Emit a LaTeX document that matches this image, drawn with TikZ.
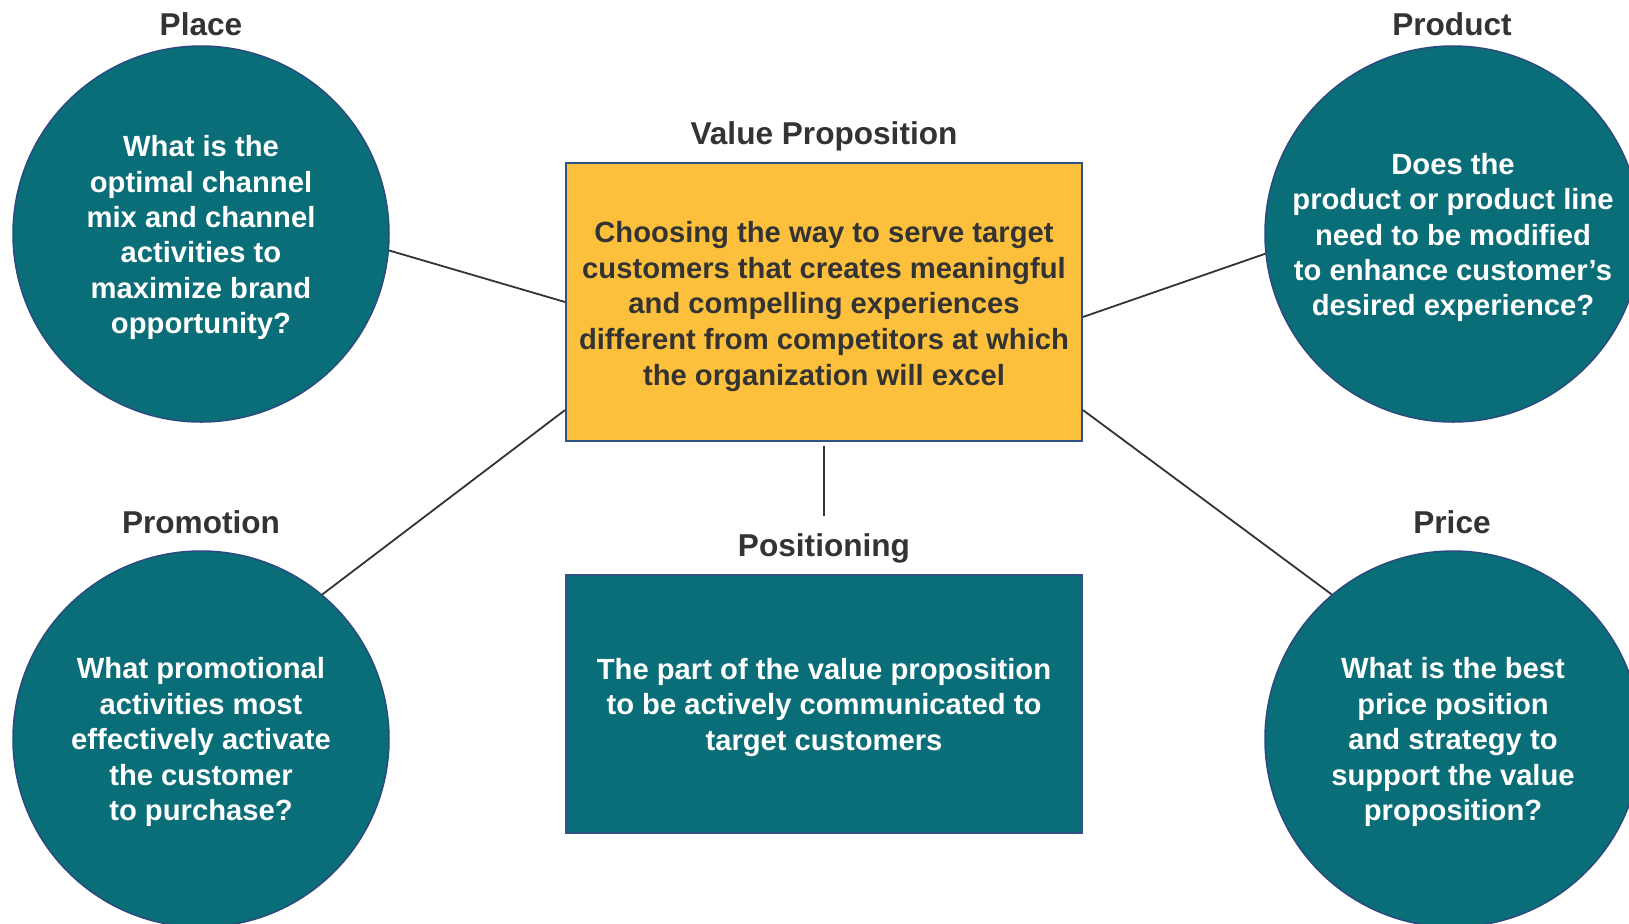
\documentclass[tikz,border=0pt]{standalone}
\usepackage{fontspec}
\setmainfont{Liberation Sans}
\definecolor{teal}{HTML}{0A6E78}
\definecolor{circborder}{HTML}{2A4A7F}
\definecolor{vpyellow}{HTML}{FDC03D}
\definecolor{boxborder}{HTML}{2E5284}
\definecolor{darktext}{HTML}{333333}
\begin{document}
\begin{tikzpicture}[x=0.5pt,y=-0.5pt,
  circ/.style={circle,draw=circborder,line width=0.75pt,fill=teal,minimum size=188pt,inner sep=0pt},
  vpbox/.style={rectangle,draw=boxborder,line width=0.9pt,fill=vpyellow,minimum width=258pt,minimum height=139pt,inner sep=0pt},
  posbox/.style={rectangle,draw=boxborder,line width=0.9pt,fill=teal,minimum width=258pt,minimum height=129pt,inner sep=0pt},
  wtext/.style={inner sep=0pt,text=white,align=center,font=\bfseries\fontsize{14.6}{17.7}\selectfont},
  dtext/.style={inner sep=0pt,text=darktext,align=center,font=\bfseries\fontsize{14.6}{17.9}\selectfont},
  lbl/.style={anchor=base,inner sep=0pt,text=darktext,font=\bfseries\fontsize{15.8}{19}\selectfont},
  conn/.style={draw=darktext,line width=0.9pt}]
\useasboundingbox (0,0) rectangle (1629,923);
\node[circ] (place) at (201,234) {};
\node[circ] (product) at (1453,234) {};
\node[circ] (promo) at (201,739) {};
\node[circ] (price) at (1453,739) {};
\node[vpbox] (vp) at (824,302) {};
\node[posbox] (pos) at (824,704) {};
\node[wtext] (tplace) at ([yshift=-1.8pt]place.center) {What is the\\optimal channel\\mix and channel\\activities to\\maximize brand\\opportunity?};
\node[wtext] (tproduct) at ([yshift=-1.8pt]product.center) {Does the\\product or product line\\need to be modified\\to enhance customer’s\\desired experience?};
\node[wtext] (tpromo) at ([yshift=-1.6pt]promo.center) {What promotional\\activities most\\effectively activate\\the customer\\to purchase?};
\node[wtext] (tprice) at ([yshift=-1.6pt]price.center) {What is the best\\price position\\and strategy to\\support the value\\proposition?};
\node[dtext] (tvp) at ([yshift=-2.2pt]vp.center) {Choosing the way to serve target\\customers that creates meaningful\\and compelling experiences\\different from competitors at which\\the organization will excel};
\node[wtext] (tpos) at ([yshift=-1.6pt]pos.center) {The part of the value proposition\\to be actively communicated to\\target customers};
\node[lbl] (lplace) at (201,35) {Place};
\node[lbl] (lproduct) at (1452,35) {Product};
\node[lbl] (lvp) at (824,144) {Value Proposition};
\node[lbl] (lpromo) at (201,533) {Promotion};
\node[lbl] (lprice) at (1452,533) {Price};
\node[lbl] (lpos) at (824,556) {Positioning};
\coordinate (posend) at (824,516);
\draw[conn] (vp.west) -- (place.-5);
\draw[conn] ([yshift=-7.5pt]vp.east) -- (product.186);
\draw[conn] ([yshift=-54pt]vp.west) -- (promo.50);
\draw[conn] ([yshift=-54pt]vp.east) -- (price.130);
\draw[conn,shorten <=2pt] (vp.south) -- (posend);
\end{tikzpicture}
\end{document}
